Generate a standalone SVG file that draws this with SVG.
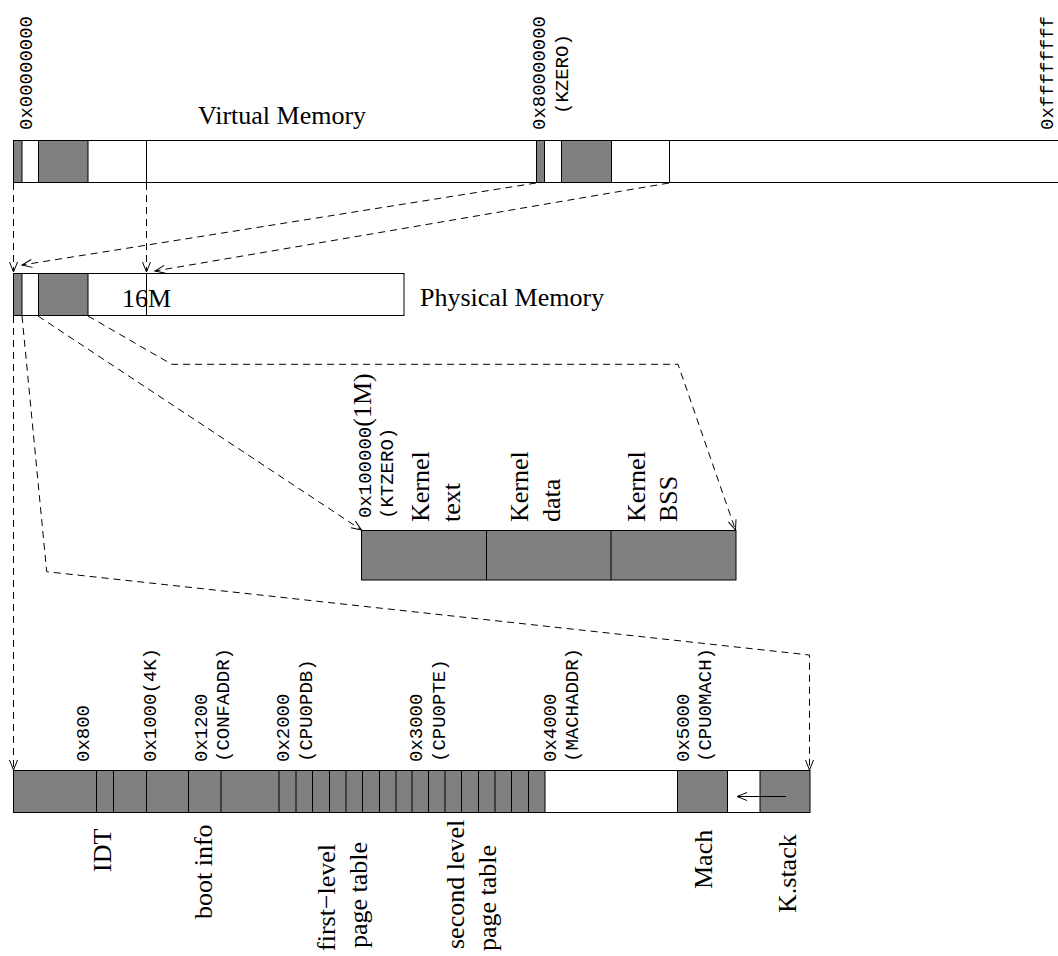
<svg xmlns="http://www.w3.org/2000/svg" width="1058" height="956" viewBox="0 0 1058 956">
<style>
.mono{font-family:"Liberation Mono","Courier New",monospace;font-size:19px;fill:#000}
.serif{font-family:"Liberation Serif","Times New Roman",serif;font-size:26px;fill:#000}
.box{fill:#fff;stroke:#000;stroke-width:1}
.dark{fill:#808080;stroke:#000;stroke-width:1}
.div{stroke:#000;stroke-width:1;fill:none}
.dash{fill:none;stroke:#000;stroke-width:1;stroke-dasharray:7,5}
.solid{fill:none;stroke:#000;stroke-width:1}
</style>
<defs>
<marker id="arr" markerWidth="12" markerHeight="10" refX="10" refY="4" orient="auto" markerUnits="userSpaceOnUse" overflow="visible">
<path d="M0,0 L10,4 L0,8" fill="none" stroke="#000" stroke-width="1"/>
</marker>
</defs>
<rect width="1058" height="956" fill="#fff"/>

<g id="virtual-memory">
<rect class="box" x="13.5" y="140.5" width="1060" height="42"/>
<rect class="dark" x="13.5" y="140.5" width="8.5" height="42"/>
<rect class="dark" x="38.5" y="140.5" width="49.5" height="42"/>
<line class="div" x1="146.5" y1="140.5" x2="146.5" y2="182.5"/>
<rect class="dark" x="536.5" y="140.5" width="8" height="42"/>
<rect class="dark" x="561.5" y="140.5" width="50" height="42"/>
<line class="div" x1="669.5" y1="140.5" x2="669.5" y2="182.5"/>
<text class="serif" x="198" y="124">Virtual Memory</text>
<text class="mono" transform="translate(31.5,130) rotate(-90)">0x00000000</text>
<text class="mono" transform="translate(545,130) rotate(-90)">0x80000000</text>
<text class="mono" transform="translate(567.5,114) rotate(-90)">(KZERO)</text>
<text class="mono" transform="translate(1053,130) rotate(-90)">0xffffffff</text>
</g>

<g id="physical-memory">
<rect class="box" x="13.5" y="273.5" width="390.5" height="42"/>
<rect class="dark" x="13.5" y="273.5" width="8.5" height="42"/>
<rect class="dark" x="38.5" y="273.5" width="49.5" height="42"/>
<line class="div" x1="146.5" y1="273.5" x2="146.5" y2="315.5"/>
<text class="serif" x="146.5" y="307" text-anchor="middle">16M</text>
<text class="serif" x="420" y="306">Physical Memory</text>
</g>

<g id="kernel-image">
<rect class="dark" x="361.5" y="530.5" width="374.5" height="49.5"/>
<line class="div" x1="486.5" y1="530.5" x2="486.5" y2="580"/>
<line class="div" x1="611" y1="530.5" x2="611" y2="580"/>
<text class="mono" transform="translate(371,518) rotate(-90)">0x100000<tspan class="serif">(1M)</tspan></text>
<text class="mono" transform="translate(393,519) rotate(-90)">(KTZERO)</text>
<text class="serif" transform="translate(429,522) rotate(-90)">Kernel</text>
<text class="serif" transform="translate(460,522) rotate(-90)">text</text>
<text class="serif" transform="translate(528,522) rotate(-90)">Kernel</text>
<text class="serif" transform="translate(560,522) rotate(-90)">data</text>
<text class="serif" transform="translate(645,522) rotate(-90)">Kernel</text>
<text class="serif" transform="translate(676.5,522) rotate(-90)">BSS</text>
</g>

<g id="low-memory">
<rect class="dark" x="13.5" y="770.5" width="796.5" height="42"/>
<rect class="box" x="545" y="770.5" width="132.5" height="42"/>
<rect class="box" x="727.5" y="770.5" width="32.5" height="42"/>
<path class="div" d="M96.5,770.5V812.5M113.5,770.5V812.5M146.5,770.5V812.5M188.5,770.5V812.5M221,770.5V812.5M279,770.5V812.5M296,770.5V812.5M312.5,770.5V812.5M329.5,770.5V812.5M346,770.5V812.5M362.5,770.5V812.5M379.5,770.5V812.5M396,770.5V812.5M412,770.5V812.5M428.5,770.5V812.5M445,770.5V812.5M461.5,770.5V812.5M478.5,770.5V812.5M495,770.5V812.5M511.5,770.5V812.5M528.5,770.5V812.5"/>
<text class="mono" transform="translate(89,762) rotate(-90)">0x800</text>
<text class="mono" transform="translate(156,762) rotate(-90)">0x1000(4K)</text>
<text class="mono" transform="translate(206.5,762) rotate(-90)">0x1200</text>
<text class="mono" transform="translate(229,762) rotate(-90)">(CONFADDR)</text>
<text class="mono" transform="translate(289,762) rotate(-90)">0x2000</text>
<text class="mono" transform="translate(312,762) rotate(-90)">(CPU0PDB)</text>
<text class="mono" transform="translate(422,762) rotate(-90)">0x3000</text>
<text class="mono" transform="translate(445,762) rotate(-90)">(CPU0PTE)</text>
<text class="mono" transform="translate(556,762) rotate(-90)">0x4000</text>
<text class="mono" transform="translate(578,762) rotate(-90)">(MACHADDR)</text>
<text class="mono" transform="translate(689,762) rotate(-90)">0x5000</text>
<text class="mono" transform="translate(711,762) rotate(-90)">(CPU0MACH)</text>
<text class="serif" transform="translate(111,872) rotate(-90)">IDT</text>
<text class="serif" transform="translate(212,919) rotate(-90)">boot info</text>
<text class="serif" transform="translate(335,951) rotate(-90)">first−level</text>
<text class="serif" transform="translate(367,948) rotate(-90)">page table</text>
<text class="serif" transform="translate(464,949) rotate(-90)">second level</text>
<text class="serif" transform="translate(496,951) rotate(-90)">page table</text>
<text class="serif" transform="translate(712,889) rotate(-90)">Mach</text>
<text class="serif" transform="translate(795.5,913) rotate(-90)">K.stack</text>
</g>

<g id="connectors">
<path class="dash" d="M13.5,183V272" marker-end="url(#arr)"/>
<path class="dash" d="M146.5,183V272" marker-end="url(#arr)"/>
<path class="dash" d="M536,183L22,265" marker-end="url(#arr)"/>
<path class="dash" d="M669,183L155,271" marker-end="url(#arr)"/>
<path class="dash" d="M13.5,316V770" marker-end="url(#arr)"/>
<path class="dash" d="M22,316L46.7,571.7L809.5,655V770" marker-end="url(#arr)"/>
<path class="dash" d="M38,316L361.5,530" marker-end="url(#arr)"/>
<path class="dash" d="M88,316L171.7,364.3L678,364.3L735.5,530" marker-end="url(#arr)"/>
<path class="solid" d="M786,796.5L737,796.5" marker-end="url(#arr)"/>
</g>
</svg>
